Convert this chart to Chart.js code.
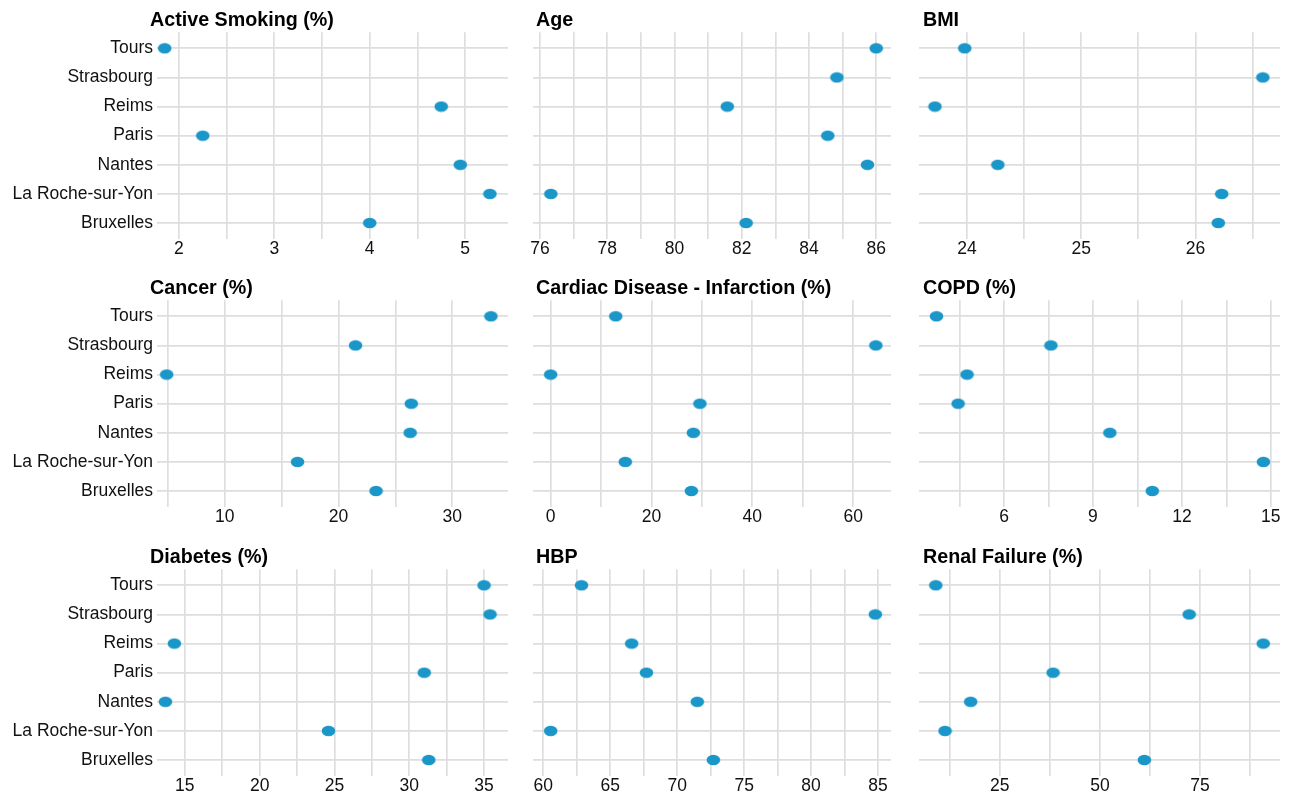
<!DOCTYPE html>
<html>
<head>
<meta charset="utf-8">
<script src="https://cdn.jsdelivr.net/npm/chart.js@4.4.1/dist/chart.umd.min.js"></script>
<style>
  html, body { margin: 0; padding: 0; background: #fff; overflow: hidden; }
  #wrap { position: relative; width: 1291px; height: 794px; }
  .panel { position: absolute; }
</style>
</head>
<body>
<div id="wrap"></div>
<script>
// Cities, top to bottom
const cities = ["Tours", "Strasbourg", "Reims", "Paris", "Nantes", "La Roche-sur-Yon", "Bruxelles"];

// Values per indicator (null = not reported)
const activeSmoking = [1.85, null, 4.75, 2.25, 4.95, 5.26, 4.0];
const age = [86.0, 84.83, 81.57, 84.56, 85.74, 76.32, 82.13];
const bmi = [23.98, 26.59, 23.72, null, 24.27, 26.23, 26.2];
const cancer = [33.4, 21.5, 4.9, 26.4, 26.3, 16.4, 23.3];
const cardiac = [12.9, 64.5, 0, 29.6, 28.3, 14.8, 27.9];
const copd = [3.72, 7.58, 4.75, 4.45, 9.57, 14.75, 11.0];
const diabetes = [35.0, 35.4, 14.3, 31.0, 13.7, 24.6, 31.3];
const hbp = [62.85, 84.8, 66.6, 67.7, 71.5, 60.55, 72.7];
const renalFailure = [9.0, 72.3, 90.8, 38.3, 17.7, 11.3, 61.1];

// Tick labels per panel
const smokingTicks = [2, 3, 4, 5];
const ageTicks = [76, 78, 80, 82, 84, 86];
const bmiTicks = [24, 25, 26];
const cancerTicks = [10, 20, 30];
const cardiacTicks = [0, 20, 40, 60];
const copdTicks = [6, 9, 12, 15];
const diabetesTicks = [15, 20, 25, 30, 35];
const hbpTicks = [60, 65, 70, 75, 80, 85];
const renalTicks = [25, 50, 75];

const panels = [
  { title: "Active Smoking (%)", values: activeSmoking, ticks: smokingTicks, min: 1.77, max: 5.45 },
  { title: "Age", values: age, ticks: ageTicks, min: 75.79, max: 86.44 },
  { title: "BMI", values: bmi, ticks: bmiTicks, min: 23.58, max: 26.74 },
  { title: "Cancer (%)", values: cancer, ticks: cancerTicks, min: 4.05, max: 34.9 },
  { title: "Cardiac Disease - Infarction (%)", values: cardiac, ticks: cardiacTicks, min: -3.5, max: 67.5 },
  { title: "COPD (%)", values: copd, ticks: copdTicks, min: 3.13, max: 15.31 },
  { title: "Diabetes (%)", values: diabetes, ticks: diabetesTicks, min: 13.14, max: 36.6 },
  { title: "HBP", values: hbp, ticks: hbpTicks, min: 59.23, max: 85.97 },
  { title: "Renal Failure (%)", values: renalFailure, ticks: renalTicks, min: 4.8, max: 95 }
];

// Layout of the 3x3 grid
const colLeft = [0, 516, 899];
const colWidth = [516, 383, 390];
const padLeft = [0, 17, 20];
const padRight = [6, 6, 9];
const yAxisWidth = [157, 0, 0];
const titleX = [150, 536, 923];
const rowTop = [0, 268, 537];
const canvasHeight = 261;

const FONT = '"Liberation Sans", Arial, Helvetica, sans-serif';
const GRID = "#dedede";

// Elliptic dot used as point style
const dot = document.createElement("canvas");
dot.width = 15;
dot.height = 12;
const dctx = dot.getContext("2d");
dctx.fillStyle = "#1a96c8";
dctx.beginPath();
dctx.ellipse(7.5, 6, 6.8, 5.3, 0, 0, Math.PI * 2);
dctx.fill();

// major ticks plus the half-way minor ones
const allTicks = (major, min, max) => {
  const half = (major[1] - major[0]) / 2;
  const out = [];
  let v = major[0];
  while (v - half >= min) v -= half;
  for (; v <= max + 1e-9; v += half) out.push(Math.round(v * 1000) / 1000);
  return out;
};

const facetTitle = {
  id: "facetTitle",
  afterDraw(chart, args, opts) {
    const ctx = chart.ctx;
    ctx.save();
    ctx.font = "bold 19.7px " + FONT;
    ctx.fillStyle = "#000";
    ctx.textBaseline = "middle";
    ctx.fillText(opts.text, opts.x, 21);
    ctx.restore();
  }
};

const wrap = document.getElementById("wrap");

panels.forEach((p, i) => {
  const col = i % 3;
  const row = Math.floor(i / 3);

  const box = document.createElement("div");
  box.className = "panel";
  box.style.left = colLeft[col] + "px";
  box.style.top = rowTop[row] + "px";
  const canvas = document.createElement("canvas");
  canvas.width = colWidth[col];
  canvas.height = canvasHeight;
  box.appendChild(canvas);
  wrap.appendChild(box);

  const points = [];
  p.values.forEach((v, k) => {
    if (v !== null) points.push({ x: v, y: k });
  });
  const ticks = allTicks(p.ticks, p.min, p.max);

  new Chart(canvas.getContext("2d"), {
    type: "scatter",
    data: {
      datasets: [{
        data: points,
        pointStyle: dot,
        pointRadius: 7,
        pointHoverRadius: 7,
        clip: false
      }]
    },
    options: {
      responsive: false,
      animation: false,
      events: [],
      layout: { padding: { top: 32.3, bottom: 0, left: padLeft[col], right: padRight[col] } },
      plugins: {
        legend: { display: false },
        tooltip: { enabled: false },
        facetTitle: { text: p.title, x: titleX[col] - colLeft[col] }
      },
      scales: {
        x: {
          type: "linear",
          min: p.min,
          max: p.max,
          afterBuildTicks: (scale) => { scale.ticks = ticks.map(v => ({ value: v })); },
          afterFit: (scale) => { scale.height = 22; },
          grid: { color: GRID, lineWidth: 1.7, drawTicks: false },
          border: { display: false },
          ticks: {
            autoSkip: false,
            maxRotation: 0,
            padding: 0,
            color: "#111",
            font: { family: FONT, size: 17.5 },
            callback: (v) => p.ticks.includes(v) ? String(v) : ""
          }
        },
        y: {
          type: "linear",
          min: -0.55,
          max: 6.55,
          reverse: true,
          afterBuildTicks: (scale) => { scale.ticks = cities.map((c, k) => ({ value: k })); },
          afterFit: (scale) => { scale.width = yAxisWidth[col]; },
          grid: { color: GRID, lineWidth: 1.7, drawTicks: false },
          border: { display: false },
          ticks: {
            display: col === 0,
            autoSkip: false,
            padding: 4,
            color: "#111",
            font: { family: FONT, size: 17.5 },
            callback: (v) => cities[v]
          }
        }
      }
    },
    plugins: [facetTitle]
  });
});
</script>
</body>
</html>
